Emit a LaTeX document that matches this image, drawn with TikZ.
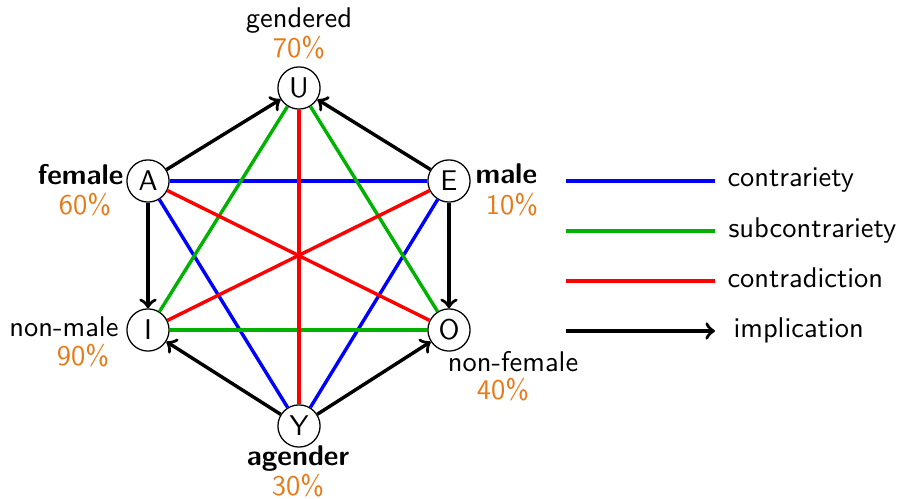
\documentclass[tikz,border=0pt]{standalone}
\usetikzlibrary{arrows}
\definecolor{pct}{RGB}{230,122,25}
\definecolor{contrc}{RGB}{0,0,255}
\definecolor{subc}{RGB}{0,178,0}
\definecolor{contd}{RGB}{255,0,0}
\begin{document}
\begin{tikzpicture}[x=0.351pt,y=-0.351pt,
  every node/.style={font=\sffamily},
  vert/.style={circle,draw,line width=0.45pt,minimum size=14.8pt,inner sep=0pt,fill=white},
  lbl/.style={anchor=base,inner sep=0pt},
  pctl/.style={anchor=base,inner sep=0pt,text=pct},
  ctr/.style={draw=contrc,line width=1.2pt},
  sub/.style={draw=subc,line width=1.2pt},
  cdn/.style={draw=contd,line width=1.2pt},
  imp/.style={draw=black,line width=1.2pt,->},
  legtxt/.style={anchor=base west,inner sep=0pt}]
\useasboundingbox (0,0) rectangle (900,499);
% vertices
\node[vert] (U) at (299,88) {U};
\node[vert] (A) at (148,181) {A};
\node[vert] (E) at (449,181) {E};
\node[vert] (I) at (148,330) {I};
\node[vert] (O) at (449,330) {O};
\node[vert] (Y) at (299,426) {Y};
% relations
\draw[ctr] (A) -- (E);
\draw[ctr] (A) -- (Y);
\draw[ctr] (E) -- (Y);
\draw[sub] (U) -- (I);
\draw[sub] (U) -- (O);
\draw[sub] (I) -- (O);
\draw[cdn] (A) -- (O);
\draw[cdn] (E) -- (I);
\draw[cdn] (U) -- (Y);
\draw[imp] (A) -- (U);
\draw[imp] (E) -- (U);
\draw[imp] (A) -- (I);
\draw[imp] (E) -- (O);
\draw[imp] (Y) -- (I);
\draw[imp] (Y) -- (O);
% labels
\node[lbl] (lU) at (299,28) {gendered};
\node[pctl] (pU) at (299,58) {70\%};
\node[lbl,anchor=base east] (lA) at (124,185) {\bfseries female};
\node[pctl] (pA) at (85,215) {60\%};
\node[lbl,anchor=base west] (lE) at (475,184) {\bfseries male};
\node[pctl] (pE) at (512,215) {10\%};
\node[lbl,anchor=base east] (lI) at (119,337) {non-male};
\node[pctl] (pI) at (83,366) {90\%};
\node[lbl] (lO) at (513,372) {non-female};
\node[pctl] (pO) at (503,400) {40\%};
\node[lbl] (lY) at (298,466) {\bfseries agender};
\node[pctl] (pY) at (298,496) {30\%};
% legend
\coordinate (l1a) at (566,181); \coordinate (l1b) at (715,181);
\coordinate (l2a) at (566,231); \coordinate (l2b) at (715,231);
\coordinate (l3a) at (566,281); \coordinate (l3b) at (715,281);
\coordinate (l4a) at (566,331); \coordinate (l4b) at (715,331);
\draw[ctr] (l1a) -- (l1b);
\draw[sub] (l2a) -- (l2b);
\draw[cdn] (l3a) -- (l3b);
\draw[imp] (l4a) -- (l4b);
\node[legtxt] (t1) at (727,187) {contrariety};
\node[legtxt] (t2) at (728,238) {subcontrariety};
\node[legtxt] (t3) at (727,288) {contradiction};
\node[legtxt] (t4) at (733,338) {implication};
\end{tikzpicture}
\end{document}
